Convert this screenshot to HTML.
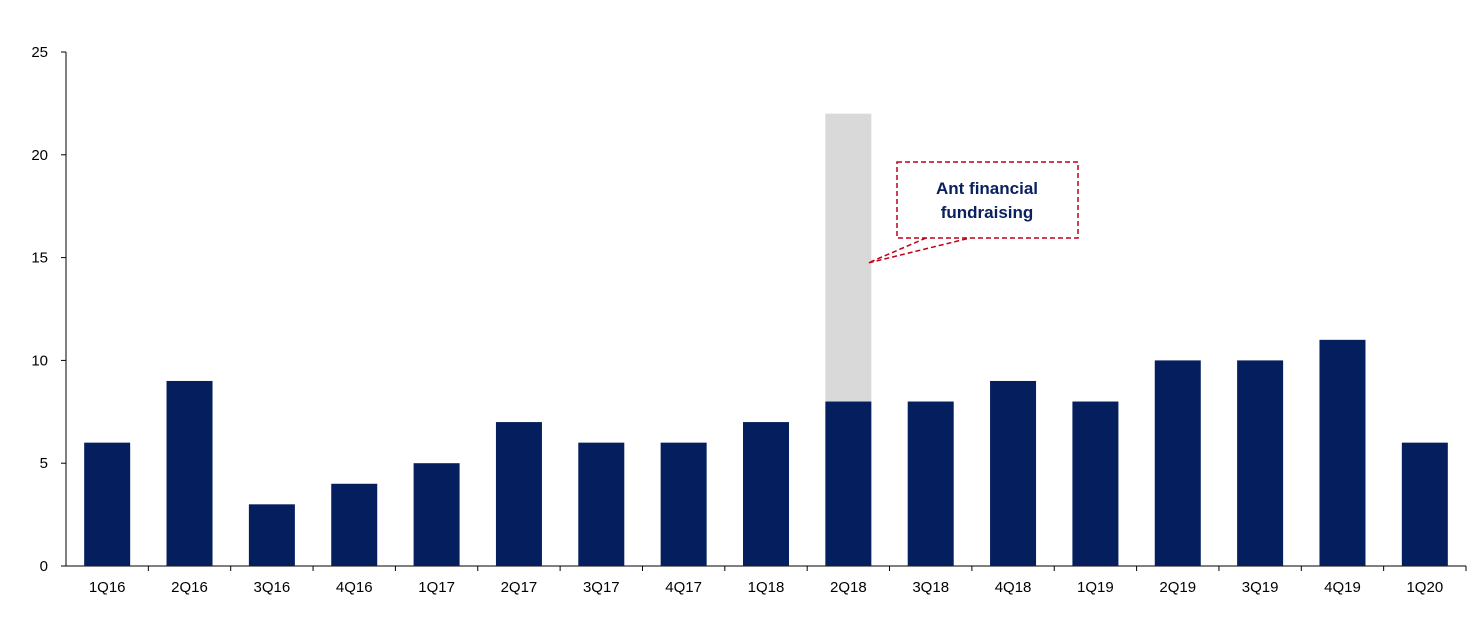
<!DOCTYPE html>
<html><head><meta charset="utf-8"><style>
body{margin:0;background:#fff;}
svg{display:block;font-family:"Liberation Sans",Arial,sans-serif;}
</style></head><body>
<svg id="chart" width="1476" height="620" viewBox="0 0 1476 620">
<g id="axes"></g>
<g id="bars"></g>
<g>
<rect x="897" y="162" width="181" height="76" fill="#fff" stroke="#c00018" stroke-width="1.5" stroke-dasharray="5,3"/>
<polyline points="926,238 868,263 970,238" fill="none" stroke="#c00018" stroke-width="1.5" stroke-dasharray="5,3"/>
<text x="987" y="194" text-anchor="middle" font-size="17" font-weight="bold" fill="#0a2060">Ant financial</text>
<text x="987" y="218" text-anchor="middle" font-size="17" font-weight="bold" fill="#0a2060">fundraising</text>
</g>
</svg>
<script>
const categories=["1Q16","2Q16","3Q16","4Q16","1Q17","2Q17","3Q17","4Q17","1Q18","2Q18","3Q18","4Q18","1Q19","2Q19","3Q19","4Q19","1Q20"];
const baseValues=[6,9,3,4,5,7,6,6,7,8,8,9,8,10,10,11,6];
const extraValues=[0,0,0,0,0,0,0,0,0,14,0,0,0,0,0,0,0];
const yTicks=[0,5,10,15,20,25];
const NS="http://www.w3.org/2000/svg";
const x0=66,x1=1466,y0=566,y1=52,yMax=25;
const band=(x1-x0)/categories.length, bw=46;
const yS=v=>y0-v*(y0-y1)/yMax;
const xC=i=>x0+band*(i+0.5);
function mk(tag,attrs,parent){const e=document.createElementNS(NS,tag);for(const k in attrs)e.setAttribute(k,attrs[k]);parent.appendChild(e);return e;}
const axes=document.getElementById('axes'), bars=document.getElementById('bars');
categories.forEach((c,i)=>{
  const r=mk('rect',{x:xC(i)-bw/2,y:yS(baseValues[i]),width:bw,height:y0-yS(baseValues[i]),fill:'#041e5e'},bars);
  
  
  if(extraValues[i]>0){
    const g=mk('rect',{x:xC(i)-bw/2,y:yS(baseValues[i]+extraValues[i]),width:bw,height:yS(baseValues[i])-yS(baseValues[i]+extraValues[i]),fill:'#d9d9d9'},bars);
    
    
  }
  const t=mk('text',{x:xC(i),y:y0+26,'text-anchor':'middle','font-size':'15',fill:'#000'},axes);
  t.textContent=c;
  
  
  const tk=mk('line',{x1:x0+band*(i+1),x2:x0+band*(i+1),y1:y0,y2:y0+5,stroke:'#000'},axes);
  
  
});
const ya=mk('line',{x1:x0,x2:x0,y1:y1,y2:y0,stroke:'#000'},axes);


const xa=mk('line',{x1:x0,x2:x1,y1:y0,y2:y0,stroke:'#000'},axes);


yTicks.forEach(v=>{
  const l=mk('line',{x1:x0-5,x2:x0,y1:yS(v),y2:yS(v),stroke:'#000'},axes);
  
  
  const t=mk('text',{x:48,y:yS(v)+5,'text-anchor':'end','font-size':'15',fill:'#000'},axes);
  t.textContent=v;
  
  
});
</script>
</body></html>
